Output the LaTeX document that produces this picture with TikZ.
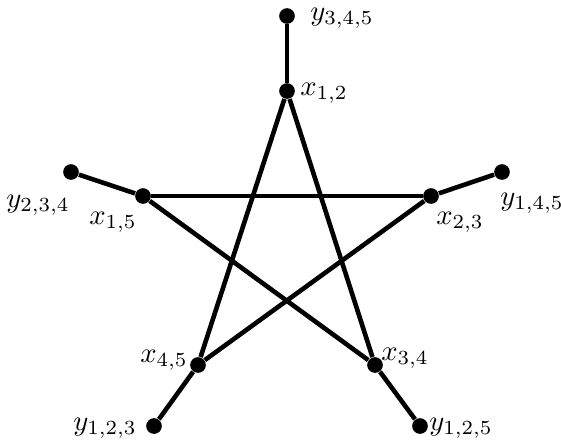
\documentclass[tikz,border=0pt]{standalone}
\begin{document}
\begin{tikzpicture}[x=0.37pt,y=-0.37pt,
  dot/.style={circle,fill=black,inner sep=0pt,minimum size=5.8pt},
  lbl/.style={inner sep=0pt,scale=1.06},
  edge/.style={line width=1.7pt}]
\useasboundingbox (0,0) rectangle (561,441);
\node[dot] (y345) at (287,16) {};
\node[dot] (x12) at (287,91) {};
\node[dot] (y234) at (71,172) {};
\node[dot] (x15) at (143,196) {};
\node[dot] (x23) at (431,196) {};
\node[dot] (y145) at (502,172) {};
\node[dot] (x45) at (198,365) {};
\node[dot] (x34) at (375,365) {};
\node[dot] (y123) at (154,426) {};
\node[dot] (y125) at (420,426) {};
\draw[edge] (y345) -- (x12);
\draw[edge] (y234) -- (x15);
\draw[edge] (y145) -- (x23);
\draw[edge] (y123) -- (x45);
\draw[edge] (y125) -- (x34);
\draw[edge] (x12) -- (x45);
\draw[edge] (x12) -- (x34);
\draw[edge] (x15) -- (x23);
\draw[edge] (x15) -- (x34);
\draw[edge] (x23) -- (x45);
\node[lbl] (ly345) at (342,18) {$y_{3,4,5}$};
\node[lbl] (lx12) at (324,93) {$x_{1,2}$};
\node[lbl] (ly234) at (38,205) {$y_{2,3,4}$};
\node[lbl] (lx15) at (113,222) {$x_{1,5}$};
\node[lbl] (lx23) at (460,222) {$x_{2,3}$};
\node[lbl] (ly145) at (532,203) {$y_{1,4,5}$};
\node[lbl] (lx45) at (164,360) {$x_{4,5}$};
\node[lbl] (lx34) at (405,358) {$x_{3,4}$};
\node[lbl] (ly123) at (105,428) {$y_{1,2,3}$};
\node[lbl] (ly125) at (461,428) {$y_{1,2,5}$};
\end{tikzpicture}
\end{document}
